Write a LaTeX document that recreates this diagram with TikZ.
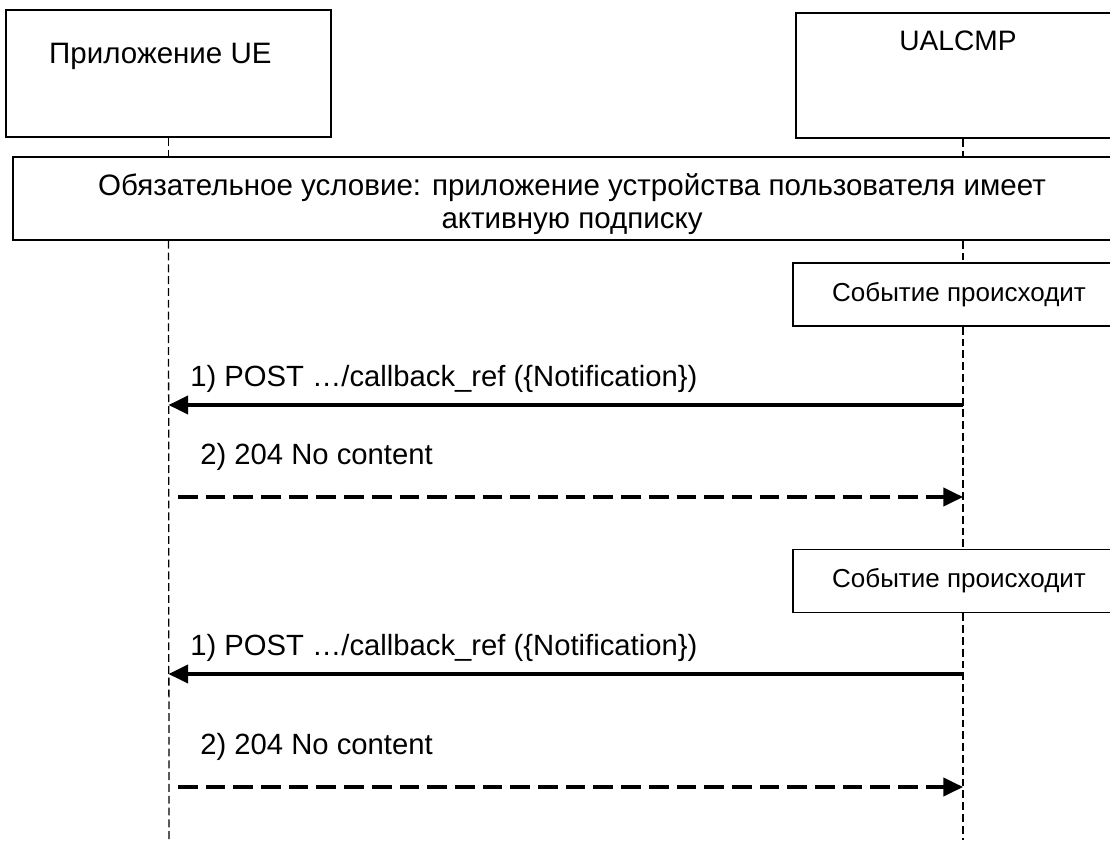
\documentclass[tikz,border=0pt]{standalone}
\usepackage{fontspec}
\setmainfont{Liberation Sans}
\usetikzlibrary{arrows.meta}

\begin{document}
\begin{tikzpicture}[
            actor/.style={draw,line width=1.1pt,fill=white,inner sep=0pt},
            evbox/.style={draw,line width=1.1pt,fill=white,inner sep=0pt,font=\fontsize{18.5}{22}\selectfont},
            life/.style={line width=0.9pt,dash pattern=on 5.6pt off 2.8pt},
            msg/.style={line width=2.4pt,-{Triangle[length=14pt,width=13pt]}},
            reply/.style={msg,dash pattern=on 14pt off 5.7pt},
            lbl/.style={anchor=base west,inner sep=0pt,font=\fontsize{20.8}{24}\selectfont},
        ]
    \clip (0,0) rectangle (27.75,21);

    % participants
    \node[actor,minimum width=8.125cm,minimum height=3.175cm] (ue) at (4.2125,19.1625) {};
    \node[anchor=base,font=\fontsize{21}{25}\selectfont] (uet) at (4.01,19.4) {Приложение UE};
    \node[actor,minimum width=8.35cm,minimum height=3.125cm] (alcmp) at (24.075,19.1125) {};
    \node[anchor=base,font=\fontsize{20}{24}\selectfont] (alcmpt) at (23.95,19.725) {UALCMP};

    % precondition
    \node[actor,minimum width=27.925cm,minimum height=2.075cm] (pre) at (14.2875,16.0375) {};
    \node[align=center,inner sep=0pt,font=\fontsize{21}{23.5}\selectfont] (pret) at (14.3,15.9)
          {Обязательное условие: приложение устройства пользователя имеет\\активную подписку};

    % events
    \node[evbox,minimum width=8.3cm,minimum height=1.575cm] (ev1) at (23.975,13.6375) {Событие происходит};
    \node[evbox,minimum width=8.3cm,minimum height=1.575cm] (ev2) at (23.975,6.475) {Событие происходит};

    % lifelines
    \coordinate (ueend) at (4.225,0);
    \coordinate (alend) at (24.075,0);
    \draw[life] (ue.south) -- (ue.south |- pre.north);
    \draw[life] (ue.south |- pre.south) -- (ueend);
    \draw[life] (alcmp.south) -- (alcmp.south |- pre.north);
    \draw[life] (alcmp.south |- pre.south) -- (alcmp.south |- ev1.north);
    \draw[life] (alcmp.south |- ev1.south) -- (alcmp.south |- ev2.north);
    \draw[life] (alcmp.south |- ev2.south) -- (alend);

    % messages
    \draw[msg] (alcmp.south |- 0,10.875) -- (ue.south |- 0,10.875);
    \node[lbl] (m1) at (4.75,11.35) {1) POST …/callback\_ref (\{Notification\})};
    \draw[reply] (4.45,8.575) -- (alcmp.south |- 0,8.575);
    \node[lbl] (m2) at (5.0,9.4) {2) 204 No content};

    \draw[msg] (alcmp.south |- 0,4.15) -- (ue.south |- 0,4.15);
    \node[lbl] (m3) at (4.75,4.625) {1) POST …/callback\_ref (\{Notification\})};
    \draw[reply] (4.45,1.325) -- (alcmp.south |- 0,1.325);
    \node[lbl] (m4) at (5.0,2.15) {2) 204 No content};
\end{tikzpicture}
\end{document}
